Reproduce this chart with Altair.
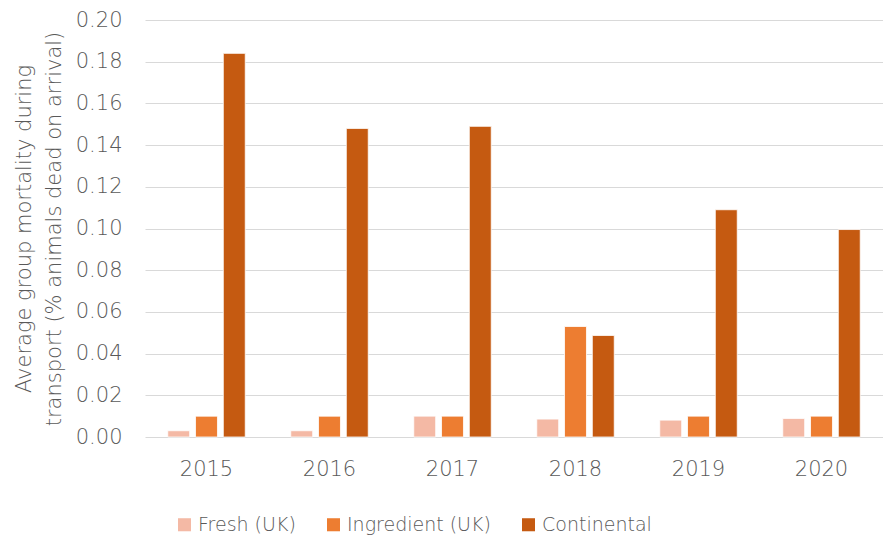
import altair as alt
import pandas as pd

years = ["2015", "2016", "2017", "2018", "2019", "2020"]
series = ["Fresh (UK)", "Ingredient (UK)", "Continental"]
fresh = [0.003, 0.003, 0.010, 0.0086, 0.0081, 0.0089]
ingredient = [0.010, 0.010, 0.010, 0.053, 0.010, 0.010]
continental = [0.184, 0.148, 0.149, 0.0487, 0.109, 0.0995]
colors = ["#F4B9A5", "#ED7D31", "#C55A11"]

rows = []
for i, y in enumerate(years):
    for s, vals in zip(series, [fresh, ingredient, continental]):
        rows.append({"Year": y, "Series": s, "Value": vals[i]})
df = pd.DataFrame(rows)

font = "DejaVu Sans"
fw = 200
text_color = "#595959"

chart = alt.Chart(df).mark_bar(stroke="white", strokeWidth=0.8).encode(
    x=alt.X("Year:N", sort=years, title=None,
            scale=alt.Scale(paddingInner=0.37, paddingOuter=0.185),
            axis=alt.Axis(labelAngle=0, labelFontSize=21, labelColor=text_color,
                          labelFont=font, labelFontWeight=fw, domain=False, ticks=False, labelPadding=21)),
    xOffset=alt.XOffset("Series:N", sort=series, scale=alt.Scale(paddingInner=0.21)),
    y=alt.Y("Value:Q", title=["Average group mortality during", "transport (% animals dead on arrival)"],
            scale=alt.Scale(domain=[0, 0.2]),
            axis=alt.Axis(values=[i * 0.02 for i in range(11)], format=".2f",
                          labelFontSize=21, labelColor=text_color, labelFont=font, labelFontWeight=fw,
                          titleFontSize=21, titleColor=text_color, titleFont=font, titleFontWeight=fw,
                          titleLineHeight=30,
                          domain=False, ticks=False, labelPadding=23, titlePadding=11,
                          gridColor="#D9D9D9", gridWidth=1.2)),
    color=alt.Color("Series:N", sort=series, scale=alt.Scale(domain=series, range=colors),
                    legend=alt.Legend(orient="none", legendX=30, legendY=495,
                                      direction="horizontal", title=None,
                                      symbolType="square", symbolSize=170, symbolStrokeWidth=0,
                                      labelFontSize=19, labelColor=text_color, labelFont=font,
                                      labelFontWeight=fw, columnPadding=28)),
).properties(
    width=738, height=417,
    padding={"left": 5, "top": 1, "right": 0, "bottom": 5},
).configure_view(stroke=None)

chart.save("out.html", embed_options={"renderer": "svg", "actions": False})
